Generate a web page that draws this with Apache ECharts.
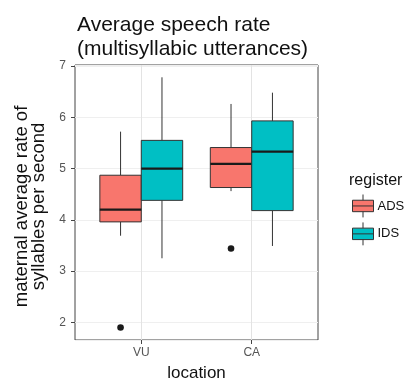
<!DOCTYPE html>
<html>
<head>
<meta charset="utf-8">
<script src="https://cdn.jsdelivr.net/npm/echarts@6/dist/echarts.min.js"></script>
<style>
  html, body { margin: 0; background: #fff; }
  #chart { width: 405px; height: 387px; }
</style>
</head>
<body>
<div id="chart"></div>
<script>
  var locations = ['VU', 'CA'];
  var registers = ['ADS', 'IDS'];
  // [lower whisker, Q1, median, Q3, upper whisker], one per location
  var adsBoxes = [[3.69, 3.96, 4.20, 4.87, 5.72], [4.56, 4.63, 5.09, 5.41, 6.26]];
  var idsBoxes = [[3.25, 4.38, 5.00, 5.55, 6.78], [3.49, 4.18, 5.33, 5.93, 6.48]];
  // [location index, value]
  var adsOutliers = [[0, 1.90], [1, 3.44]];
  var idsOutliers = [];
  var yTicks = [2, 3, 4, 5, 6, 7];
  var yMinor = [2.5, 3.5, 4.5, 5.5, 6.5];
  var colors = ['#F8766D', '#00BFC4'];

  var FONT = 'Liberation Sans';
  var BOX_W = 0.375;

  var myChart = echarts.init(document.getElementById('chart'));

  function boxRenderer(dodge, color) {
    return function (params, api) {
      var x = api.value(0) + 1 + dodge;
      var lo = api.coord([x, api.value(1)]);
      var q1 = api.coord([x, api.value(2)]);
      var md = api.coord([x, api.value(3)]);
      var q3 = api.coord([x, api.value(4)]);
      var hi = api.coord([x, api.value(5)]);
      var half = api.size([BOX_W, 0])[0] / 2;
      var line = { stroke: '#333', lineWidth: 1 };
      return {
        type: 'group',
        children: [
          { type: 'line', shape: { x1: q3[0], y1: q3[1], x2: hi[0], y2: hi[1] }, style: line },
          { type: 'line', shape: { x1: lo[0], y1: lo[1], x2: q1[0], y2: q1[1] }, style: line },
          { type: 'rect', shape: { x: q3[0] - half, y: q3[1], width: half * 2, height: q1[1] - q3[1] },
            style: { fill: color, stroke: '#333', lineWidth: 1 } },
          { type: 'line', shape: { x1: md[0] - half, y1: md[1], x2: md[0] + half, y2: md[1] },
            style: { stroke: '#1a1a1a', lineWidth: 2.2 } }
        ]
      };
    };
  }

  function outlierRenderer(dodge) {
    return function (params, api) {
      var p = api.coord([api.value(0) + 1 + dodge, api.value(1)]);
      return { type: 'circle', shape: { cx: p[0], cy: p[1], r: 3.3 }, style: { fill: '#1a1a1a' } };
    };
  }

  function withIndex(list) {
    return list.map(function (b, i) { return [i].concat(b); });
  }

  // boxplot key: whisker, box, median, whisker
  var keyIcon = 'path://M11,0 L11,6 M0,6 L22,6 L22,18 L0,18 Z M0,12 L22,12 M11,18 L11,24';

  var option = {
    backgroundColor: '#fff',
    animation: false,
    title: [
      {
        text: 'Average speech rate\n(multisyllabic utterances)',
        left: 72, top: 8,
        textStyle: { fontFamily: FONT, fontSize: 21, fontWeight: 'normal', color: '#111', lineHeight: 24 }
      },
      {
        text: 'register',
        left: 344, top: 168,
        textStyle: { fontFamily: FONT, fontSize: 16, fontWeight: 'normal', color: '#111' }
      }
    ],
    legend: {
      orient: 'vertical',
      left: 347, top: 189,
      itemWidth: 21, itemHeight: 24, itemGap: 4,
      textStyle: { fontFamily: FONT, fontSize: 13, color: '#111', padding: [0, 0, 0, -1] },
      data: registers.map(function (r, i) {
        return { name: r, icon: keyIcon, itemStyle: { color: colors[i], borderColor: '#333', borderWidth: 1 } };
      })
    },
    grid: {
      left: 75, top: 65, width: 243, height: 281,
      show: true, borderColor: '#444', borderWidth: 1, backgroundColor: '#fff'
    },
    xAxis: {
      type: 'value', min: 0.4, max: 2.6,
      axisLine: { show: false },
      axisTick: { customValues: [1, 2], length: 4, lineStyle: { color: '#444' } },
      axisLabel: {
        customValues: [1, 2], margin: 7,
        formatter: function (v) { return locations[Math.round(v) - 1]; },
        fontFamily: FONT, fontSize: 12, color: '#555'
      },
      splitLine: { show: true, customValues: [1, 2], lineStyle: { color: '#e3e3e3', width: 1 } },
      name: 'location', nameLocation: 'middle', nameGap: 25,
      nameTextStyle: { fontFamily: FONT, fontSize: 17, color: '#111' }
    },
    yAxis: [
      {
        type: 'value', min: 1.656, max: 7.02,
        axisLine: { show: false },
        axisTick: { show: true, customValues: yTicks, length: 4, lineStyle: { color: '#444' } },
        axisLabel: { customValues: yTicks, margin: 9, fontFamily: FONT, fontSize: 12, color: '#555' },
        splitLine: { show: true, customValues: yTicks, lineStyle: { color: '#e3e3e3', width: 1 } },
        name: 'maternal average rate of\nsyllables per second',
        nameLocation: 'middle', nameRotate: 90, nameGap: 28,
        nameTextStyle: { fontFamily: FONT, fontSize: 18.5, color: '#111', lineHeight: 17, padding: [0, 8, 0, 0] }
      },
      {
        type: 'value', min: 1.656, max: 7.02, position: 'left',
        axisLine: { show: false }, axisTick: { show: false }, axisLabel: { show: false },
        splitLine: { show: true, customValues: yMinor, lineStyle: { color: '#efefef', width: 1 } }
      }
    ],
    series: [
      { name: 'ADS', type: 'custom', renderItem: boxRenderer(-BOX_W / 2, colors[0]), data: withIndex(adsBoxes),
        itemStyle: { color: colors[0] }, z: 3 },
      { name: 'IDS', type: 'custom', renderItem: boxRenderer(BOX_W / 2, colors[1]), data: withIndex(idsBoxes),
        itemStyle: { color: colors[1] }, z: 3 },
      { name: 'ADS outliers', type: 'custom', renderItem: outlierRenderer(-BOX_W / 2), data: adsOutliers, z: 4 },
      { name: 'IDS outliers', type: 'custom', renderItem: outlierRenderer(BOX_W / 2), data: idsOutliers, z: 4 }
    ]
  };
  myChart.setOption(option);
</script>
</body>
</html>
